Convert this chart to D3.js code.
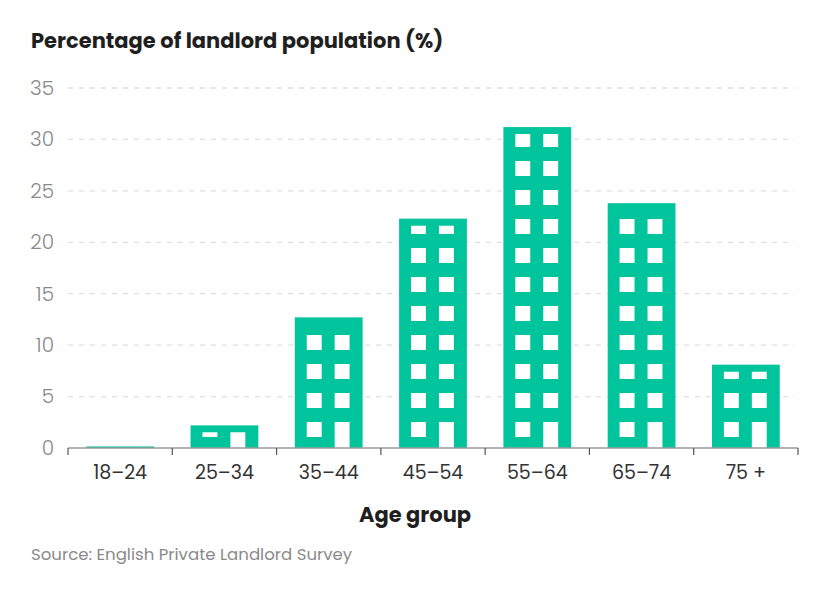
<!DOCTYPE html>
<html>
<head>
<meta charset="utf-8">
<script src="https://cdn.jsdelivr.net/npm/d3@7"></script>
<style>
  body { margin: 0; background: #fff; }
  svg { display: block; }
</style>
</head>
<body>
<script>
// chart data
const ageGroups = ["18\u201324", "25\u201334", "35\u201344", "45\u201354", "55\u201364", "65\u201374", "75 +"];
const shares = [0.15, 2.2, 12.7, 22.3, 31.2, 23.8, 8.1];
const yTicks = [0, 5, 10, 15, 20, 25, 30, 35];

const width = 830, height = 590;
const margin = {left: 68, right: 32, top: 88, bottom: 142};
const green = "#00c49b";
const font = "Poppins, 'Open Sans', sans-serif";

const svg = d3.select("body").append("svg")
    .attr("width", width).attr("height", height);

const x = d3.scaleBand()
    .domain(ageGroups)
    .range([margin.left, width - margin.right])
    .paddingInner(0.35).paddingOuter(0.175);

const y = d3.scaleLinear()
    .domain([0, 35])
    .range([height - margin.bottom, margin.top]);

// gridlines
svg.append("g")
  .selectAll("line")
  .data(yTicks.filter(d => d > 0))
  .join("line")
    .attr("x1", margin.left).attr("x2", width - 35)
    .attr("y1", d => y(d)).attr("y2", d => y(d))
    .attr("stroke", "#e0e0e0")
    .attr("stroke-width", 1.3)
    .attr("stroke-dasharray", "5,6");

// y axis labels
const yAxis = d3.axisLeft(y).tickValues(yTicks).tickSize(0).tickPadding(14);
svg.append("g")
    .attr("transform", `translate(${margin.left},0)`)
    .call(yAxis)
    .call(g => g.select(".domain").remove())
    .call(g => g.selectAll("text")
        .attr("fill", "#8a8a8a")
        .attr("font-family", font)
        .attr("font-weight", 300)
        .attr("font-size", 20));

// bars drawn as buildings
const bw = x.bandwidth();
const base = y(0);
const pitch = 29, winH = 15, winW = bw * 0.22;

const bars = svg.append("g").selectAll("g")
  .data(ageGroups.map((g, i) => ({group: g, value: shares[i]})))
  .join("g");

bars.append("rect")
    .attr("x", d => x(d.group))
    .attr("y", d => y(d.value))
    .attr("width", bw)
    .attr("height", d => base - y(d.value))
    .attr("fill", green);

const defs = svg.append("defs");
bars.each(function(d, i) {
  const top = y(d.value) + 7;
  if (base - top < 2) return;
  defs.append("clipPath").attr("id", "clip" + i)
    .append("rect")
      .attr("x", x(d.group)).attr("y", top)
      .attr("width", bw).attr("height", base - top);
  const g = d3.select(this).append("g").attr("clip-path", `url(#clip${i})`);
  const rows = d3.range(Math.ceil((base - y(d.value)) / pitch) + 1);
  rows.forEach(r => {
    const wb = base - 11 - r * pitch;
    [0.176, 0.588].forEach((off, c) => {
      const isDoor = r === 0 && c === 1;
      g.append("rect")
        .attr("x", x(d.group) + bw * off)
        .attr("y", wb - winH)
        .attr("width", winW)
        .attr("height", isDoor ? base - (wb - winH) : winH)
        .attr("fill", "#fff");
    });
  });
});

// x axis
const xAxis = d3.axisBottom(x).tickSize(0).tickPadding(18);
const xg = svg.append("g")
    .attr("transform", `translate(0,${base})`)
    .call(xAxis);
xg.select(".domain").attr("stroke", "#9a9a9a").attr("stroke-width", 1.5)
    .attr("d", `M${margin.left},0H${width - margin.right}`);
xg.selectAll("text")
    .attr("fill", "#333")
    .attr("font-family", font)
    .attr("font-size", 19);
// tick marks at band boundaries
xg.selectAll("line.sep")
  .data(ageGroups.concat(["end"]))
  .join("line").attr("class", "sep")
    .attr("x1", (d, i) => margin.left + i * x.step())
    .attr("x2", (d, i) => margin.left + i * x.step())
    .attr("y1", 0).attr("y2", 7)
    .attr("stroke", "#555").attr("stroke-width", 1.2);

// titles
svg.append("text")
    .attr("x", 31).attr("y", 48)
    .attr("font-family", font)
    .attr("font-weight", "bold")
    .attr("font-size", 21)
    .attr("fill", "#1f1f1f")
    .text("Percentage of landlord population (%)");

svg.append("text")
    .attr("x", width / 2).attr("y", 522)
    .attr("text-anchor", "middle")
    .attr("font-family", font)
    .attr("font-weight", "bold")
    .attr("font-size", 21)
    .attr("fill", "#1f1f1f")
    .text("Age group");

svg.append("text")
    .attr("x", 31).attr("y", 560)
    .attr("font-family", font)
    .attr("font-size", 16.6)
    .attr("fill", "#8a8a8a")
    .text("Source: English Private Landlord Survey");
</script>
</body>
</html>
